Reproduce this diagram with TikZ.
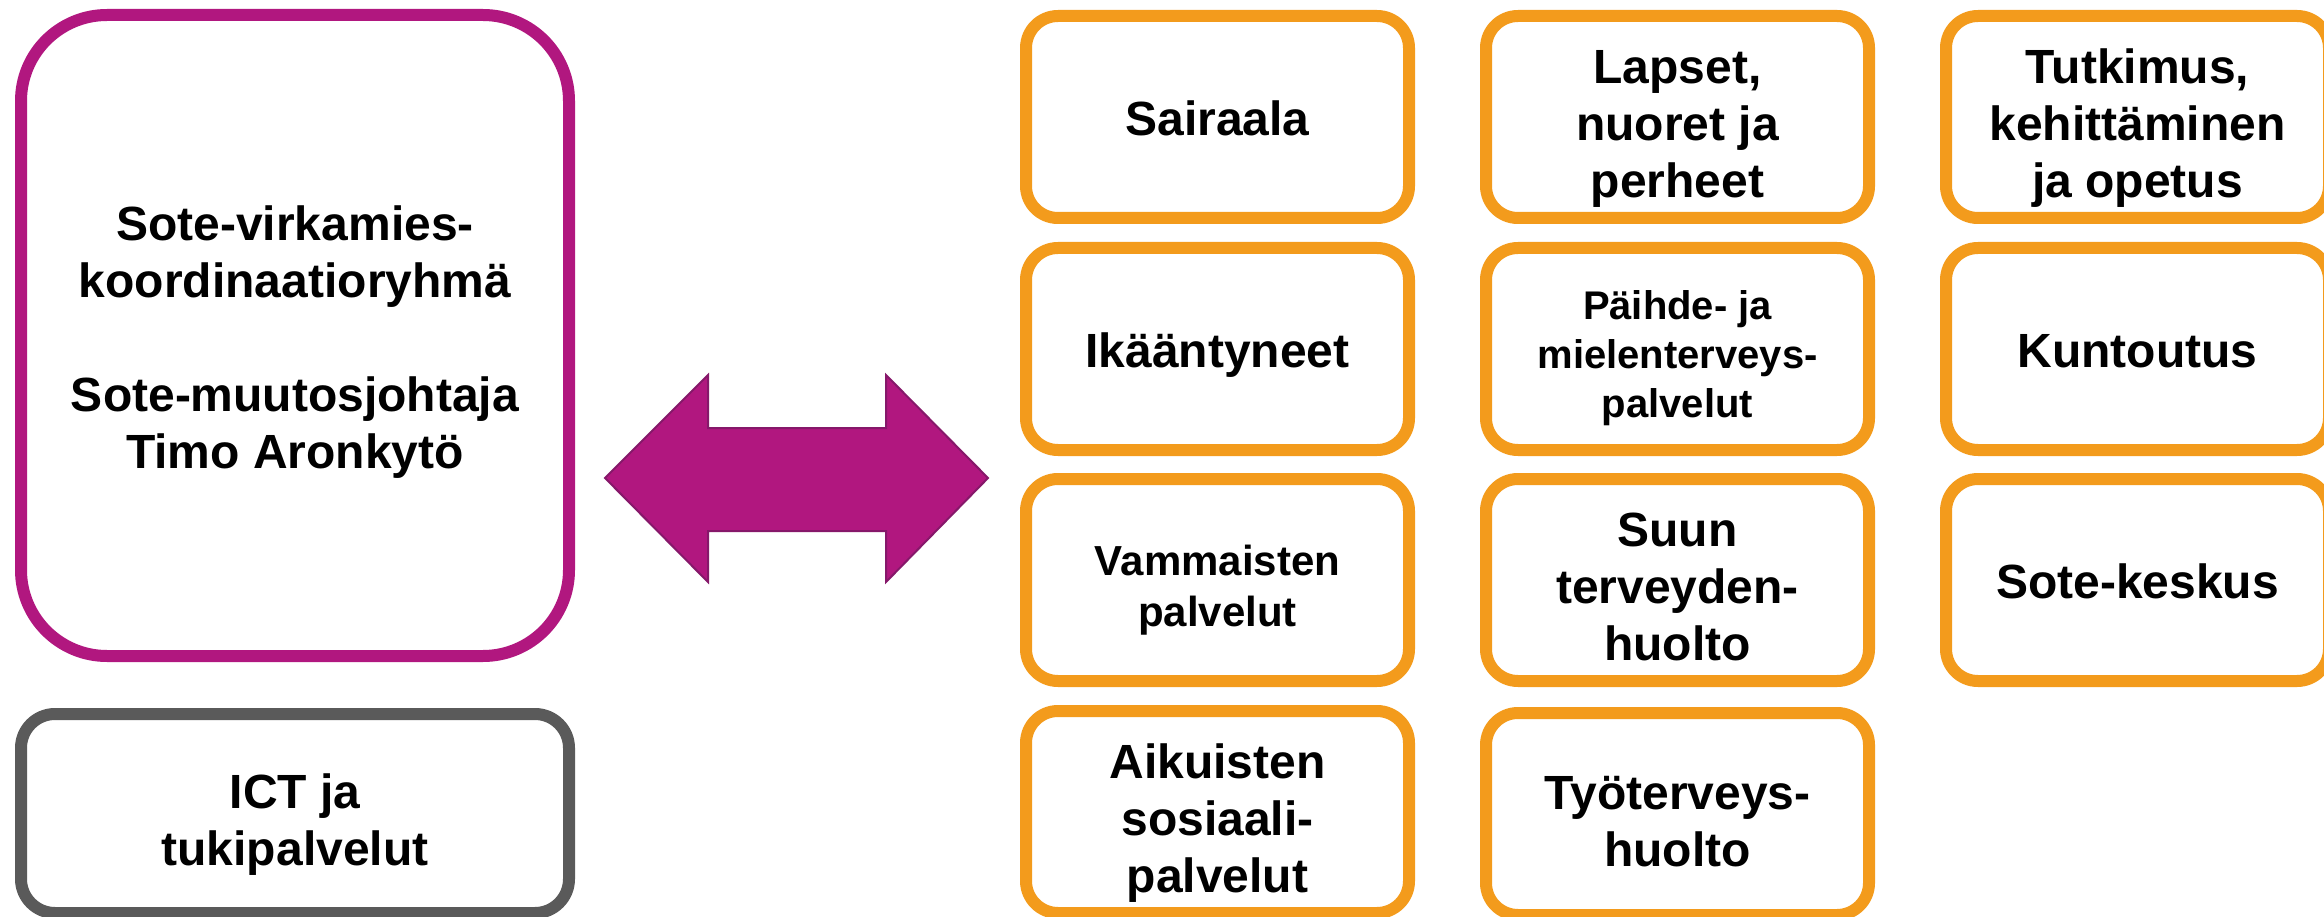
\documentclass[tikz,border=0pt]{standalone}
\usepackage{fontspec}
\setmainfont{Liberation Sans}
\definecolor{sotepurple}{HTML}{B1177F}
\definecolor{arrowedge}{HTML}{86186A}
\definecolor{soteorange}{HTML}{F39B1C}
\definecolor{sotegray}{HTML}{5A5A5A}
% struts inside the first and last line of each text
\newcommand\ts{\rule{0pt}{1em}}
\newcommand\tm{\rule{0pt}{1.2em}}
\newcommand\bs{\rule[-0.212em]{0pt}{0.212em}}
\tikzset{
  box/.style={draw, line width=12pt, rounded corners=32pt, fill=white,
    align=center, inner sep=0pt, text=black,
    font=\bfseries\fontsize{48}{57}\selectfont},
  obox/.style={box, draw=soteorange, minimum width=383pt, minimum height=202pt},
  smalltext/.style={font=\bfseries\fontsize{40}{49}\selectfont},
  midtext/.style={font=\bfseries\fontsize{42}{51}\selectfont},
  bigarrow/.style={fill=sotepurple, draw=arrowedge, line width=2pt, line join=miter}
}
\begin{document}
\begin{tikzpicture}[x=1pt,y=-1pt]
\useasboundingbox (0,0) rectangle (2324,917);
\clip (0,0) rectangle (2324,917);

% left column
\node[box, draw=sotepurple, rounded corners=86pt, minimum width=548pt, minimum height=641pt]
  (sote) at (295,335.5)
  {\ts Sote-virkamies-\\koordinaatioryhmä\\[57pt]Sote-muutosjohtaja\\Timo Aronkytö\bs};
\node[box, draw=sotegray, rounded corners=34pt, minimum width=548pt, minimum height=199pt]
  (ict) at (295,813.5) {\tm ICT ja\\tukipalvelut\bs};

% double arrow
\coordinate (al) at (605,478);
\coordinate (ar) at (988,478);
\draw[bigarrow] (al) -- (708,375) -- (708,428) -- (886,428) -- (886,375) -- (ar)
  -- (886,582) -- (886,531) -- (708,531) -- (708,582) -- cycle;

% orange grid
\node[obox] (sairaala) at (1217.5,117) {\ts Sairaala\bs};
\node[obox] (lapset) at (1677.5,117) {\tm Lapset,\\nuoret ja\\perheet\bs};
\node[obox] (tutkimus) at (2137.5,117) {\tm Tutkimus,\\kehittäminen\\ja opetus\bs};

\node[obox] (ikaant) at (1217.5,349) {\ts Ikääntyneet\bs};
\node[obox, smalltext] (paihde) at (1677.5,349) {\tm Päihde- ja\\mielenterveys-\\palvelut\bs};
\node[obox] (kuntoutus) at (2137.5,349) {\ts Kuntoutus\bs};

\node[obox, midtext] (vammaisten) at (1217.5,580) {\tm Vammaisten\\palvelut\bs};
\node[obox] (suun) at (1677.5,580) {\tm Suun\\terveyden-\\huolto\bs};
\node[obox] (sotekeskus) at (2137.5,580) {\ts Sote-keskus\bs};

\node[obox] (aikuisten) at (1217.5,812) {\tm Aikuisten\\sosiaali-\\palvelut\bs};
\node[obox] (tyoterveys) at (1677.5,814) {\tm Työterveys-\\huolto\bs};
\end{tikzpicture}
\end{document}
